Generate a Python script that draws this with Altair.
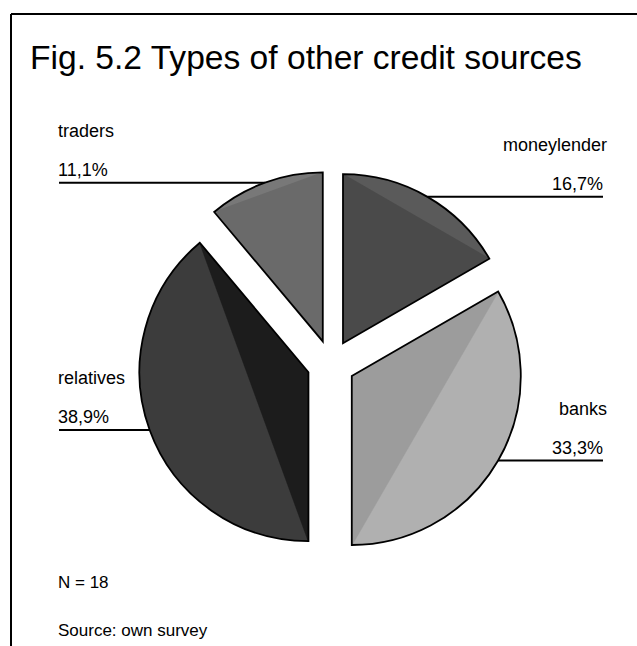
import math
import altair as alt
import pandas as pd

# ---- data ----
sources = ["moneylender", "banks", "relatives", "traders"]
counts = [3, 6, 7, 2]          # N = 18
solid_fills = ["#4a4a4a", "#9c9c9c", "#1c1c1c", "#6a6a6a"]   # triangle part of each slice
hatch_fills = ["#5a5a5a", "#b0b0b0", "#3c3c3c", "#787878"]   # hatched outer segment
sides = ["right", "right", "left", "left"]

title_text = "Fig. 5.2 Types of other credit sources"
footer_lines = ["N = 18", "Source: own survey"]

# ---- layout ----
W, H = 637, 646
CX, CY, R, EXPLODE = 331, 364, 169, 24
LEFT_X, RIGHT_X = 59, 603
FONT = "Liberation Sans"
TAU = 2 * math.pi

df = pd.DataFrame({"source": sources, "count": counts, "order": list(range(len(sources))),
                   "side": sides})

base = (
    alt.Chart(df)
    .transform_window(cum="sum(count)", sort=[alt.SortField("order")], frame=[None, 0])
    .transform_joinaggregate(total="sum(count)")
    .transform_calculate(
        c0="datum.cum - datum.count",
        mid="(datum.cum - datum.count/2) / datum.total * 2 * PI",
        pct="replace(format(datum.count / datum.total * 100, '.1f'), '.', ',') + '%'",
    )
    .transform_calculate(
        vx=f"{CX} + {EXPLODE} * sin(datum.mid)",
        vy=f"{CY} - {EXPLODE} * cos(datum.mid)",
    )
    .transform_calculate(
        lx=f"datum.vx + {R} * sin(datum.mid)",
        ly=f"datum.vy - {R} * cos(datum.mid)",
        ex=f"datum.side == 'right' ? {RIGHT_X} : {LEFT_X}",
    )
    .transform_calculate(
        name_y="datum.ly - 46",
        pct_y="datum.ly - 7",
    )
)

total = sum(counts)
theta_scale = alt.Scale(domain=[0, total], range=[0, TAU])


def slice_gradient(i):
    """Two-tone fill: solid triangle (vertex side of the chord), lighter segment beyond it.
    Gradient coordinates are relative to the slice's own bounding box."""
    c0 = sum(counts[:i])
    a0, a1 = c0 / total * TAU, (c0 + counts[i]) / total * TAU
    m = (a0 + a1) / 2
    vx, vy = CX + EXPLODE * math.sin(m), CY - EXPLODE * math.cos(m)
    p = lambda a: (vx + R * math.sin(a), vy - R * math.cos(a))
    pts = [(vx, vy), p(a0), p(a1)]
    for k in range(4):
        a = k * math.pi / 2
        if a0 < a < a1:
            pts.append(p(a))
    xs, ys = [q[0] for q in pts], [q[1] for q in pts]
    x0, x1, y0, y1 = min(xs), max(xs), min(ys), max(ys)
    nrm = lambda q: ((q[0] - x0) / (x1 - x0), (q[1] - y0) / (y1 - y0))
    s, e, v = nrm(p(a0)), nrm(p(a1)), nrm((vx, vy))
    du, dv = e[0] - s[0], e[1] - s[1]
    n = (-dv, du)
    if (v[0] - s[0]) * n[0] + (v[1] - s[1]) * n[1] > 0:
        n = (dv, -du)
    ln = math.hypot(*n)
    n = (n[0] / ln * 0.5, n[1] / ln * 0.5)
    return {
        "gradient": "linear",
        "x1": s[0], "y1": s[1], "x2": s[0] + n[0], "y2": s[1] + n[1],
        "stops": [
            {"offset": 0, "color": solid_fills[i]},
            {"offset": 0.012, "color": hatch_fills[i]},
            {"offset": 1, "color": hatch_fills[i]},
        ],
    }


slice_layers = []
for i, src in enumerate(sources):
    slice_layers.append(
        base.transform_filter(f"datum.source == '{src}'")
        .mark_arc(outerRadius=R, stroke="black", strokeWidth=1.8, fill=slice_gradient(i))
        .encode(
            x=alt.X("vx:Q", scale=None),
            y=alt.Y("vy:Q", scale=None),
            theta=alt.Theta("c0:Q", scale=theta_scale, stack=None),
            theta2="cum:Q",
        )
    )

leaders = base.mark_rule(color="black", strokeWidth=2).encode(
    x=alt.X("lx:Q", scale=None),
    x2="ex:Q",
    y=alt.Y("ly:Q", scale=None),
)


def labels(side, align, dx_name, dx_pct):
    b = base.transform_filter(f"datum.side == '{side}'")
    names = b.mark_text(align=align, baseline="alphabetic", font=FONT, fontSize=18,
                        dx=dx_name, color="black").encode(
        x=alt.X("ex:Q", scale=None), y=alt.Y("name_y:Q", scale=None), text="source:N")
    pcts = b.mark_text(align=align, baseline="alphabetic", font=FONT, fontSize=18,
                       dx=dx_pct, color="black").encode(
        x=alt.X("ex:Q", scale=None), y=alt.Y("pct_y:Q", scale=None), text="pct:N")
    return names + pcts


one = alt.Data(values=[{"t": title_text}])
title = alt.Chart(one).mark_text(align="left", baseline="alphabetic", font=FONT,
                                 fontSize=33.6, color="black").encode(
    x=alt.value(30), y=alt.value(69), text="t:N")

foot_df = pd.DataFrame({"t": footer_lines, "y": [588, 636]})
footer = alt.Chart(foot_df).mark_text(align="left", baseline="alphabetic", font=FONT,
                                      fontSize=17, color="black").encode(
    x=alt.value(58), y=alt.Y("y:Q", scale=None), text="t:N")

frame_top = alt.Chart(one).mark_rule(color="black", strokeWidth=2).encode(
    x=alt.value(11), x2=alt.value(W + 5), y=alt.value(14))
frame_left = alt.Chart(one).mark_rule(color="black", strokeWidth=2).encode(
    x=alt.value(11), y=alt.value(14), y2=alt.value(H + 5))

chart = alt.layer(
    frame_top, frame_left, leaders, *slice_layers,
    labels("left", "left", -1, -1), labels("right", "right", 4, 0),
    title, footer,
).properties(
    width=W, height=H, autosize=alt.AutoSizeParams(type="none"), padding=0,
    background="white",
).configure_view(stroke=None)

chart.save("out.html", embed_options={"renderer": "svg", "actions": False})
